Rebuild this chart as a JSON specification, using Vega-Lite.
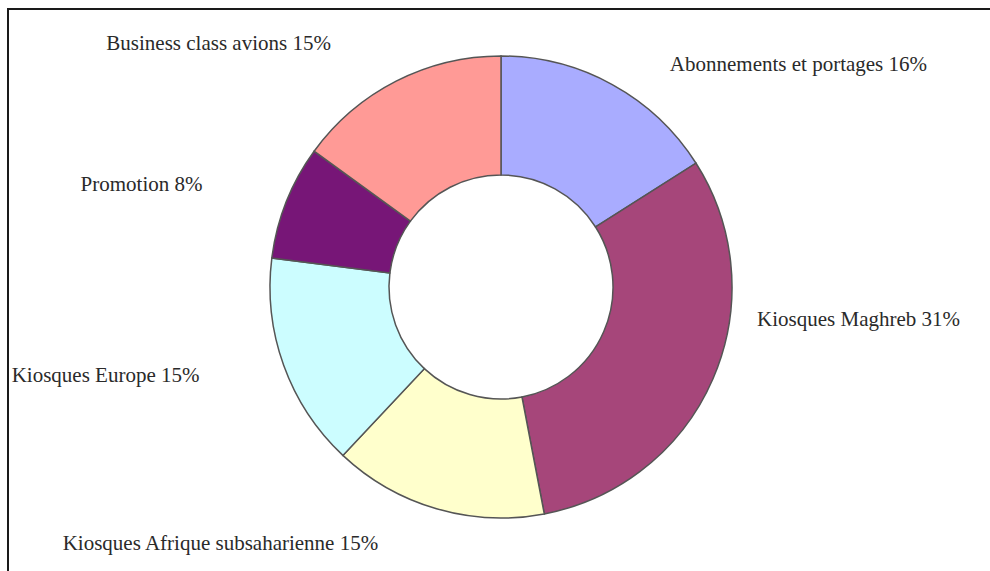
{
  "$schema": "https://vega.github.io/schema/vega-lite/v6.json",
  "width": 990,
  "height": 571,
  "autosize": {"type": "fit", "contains": "padding"},
  "padding": {"left": 7, "top": 8, "right": -10, "bottom": -10},
  "background": "white",
  "config": {"view": {"stroke": null}},
  "datasets": {
    "shares": [
      {"order": 1, "segment": "Abonnements et portages", "share": 16, "label": "Abonnements et portages 16%"},
      {"order": 2, "segment": "Kiosques Maghreb", "share": 31, "label": "Kiosques Maghreb 31%"},
      {"order": 3, "segment": "Kiosques Afrique subsaharienne", "share": 15, "label": "Kiosques Afrique subsaharienne 15%"},
      {"order": 4, "segment": "Kiosques Europe", "share": 15, "label": "Kiosques Europe 15%"},
      {"order": 5, "segment": "Promotion", "share": 8, "label": "Promotion 8%"},
      {"order": 6, "segment": "Business class avions", "share": 15, "label": "Business class avions 15%"}
    ],
    "frame": [{"name": "frame"}]
  },
  "layer": [
    {
      "data": {"name": "frame"},
      "mark": {"type": "rect", "fill": null, "stroke": "#1a1a1a", "strokeWidth": 2},
      "encoding": {}
    },
    {
      "data": {"name": "shares"},
      "mark": {"type": "arc", "innerRadius": 112, "outerRadius": 231, "stroke": "#555555", "strokeWidth": 1.5, "xOffset": -2.5, "yOffset": -7.5},
      "encoding": {
        "theta": {"field": "share", "type": "quantitative", "stack": true},
        "order": {"field": "order", "type": "quantitative"},
        "color": {
          "field": "segment",
          "type": "nominal",
          "scale": {
            "domain": ["Abonnements et portages", "Kiosques Maghreb", "Kiosques Afrique subsaharienne", "Kiosques Europe", "Promotion", "Business class avions"],
            "range": ["#a9acff", "#a6467a", "#ffffcc", "#ccfdff", "#771677", "#ff9a96"]
          },
          "legend": null
        }
      }
    },
    {
      "data": {"name": "shares"},
      "mark": {"type": "text", "radius": 200, "align": "left", "baseline": "middle", "dx": 70, "dy": -54, "font": "Liberation Serif", "fontSize": 21, "fill": "#2a2a2a"},
      "encoding": {
        "theta": {"field": "share", "type": "quantitative", "stack": true},
        "order": {"field": "order", "type": "quantitative"},
        "text": {"condition": {"test": "datum.order <= 2", "field": "label"}, "value": ""}
      }
    },
    {
      "data": {"name": "shares"},
      "mark": {"type": "text", "radius": 270, "align": "right", "baseline": "middle", "dx": -50, "dy": -10, "font": "Liberation Serif", "fontSize": 21, "fill": "#2a2a2a"},
      "encoding": {
        "theta": {"field": "share", "type": "quantitative", "stack": true},
        "order": {"field": "order", "type": "quantitative"},
        "text": {"condition": {"test": "datum.order > 2", "field": "label"}, "value": ""}
      }
    }
  ]
}
